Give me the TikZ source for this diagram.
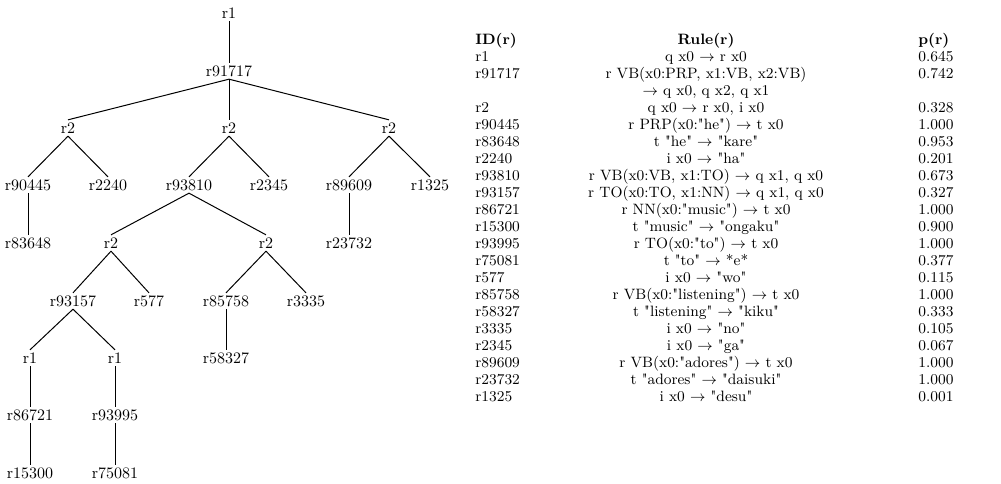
\documentclass[tikz,border=0pt]{standalone}
\newcommand{\dq}{\textquotedbl}
\begin{document}
\begin{tikzpicture}[x=0.6pt,y=-0.6pt,
  tn/.style={inner sep=1.2pt,text height=7pt,text depth=0pt,font=\fontsize{9.6}{11}\selectfont},
  ed/.style={line width=0.6pt},
  tb/.style={inner sep=0pt,text height=6.5pt,text depth=0pt,font=\fontsize{9}{10}\selectfont},
  tbh/.style={tb,font=\fontsize{9}{10}\selectfont\bfseries}]
\useasboundingbox (0,0) rectangle (1001,483);
% tree
\node[tn] (t1) at (229,13) {r1};
\node[tn] (t2) at (229,71) {r91717};
\node[tn] (a) at (68,128) {r2};
\node[tn] (b) at (229,128) {r2};
\node[tn] (c) at (389,128) {r2};
\node[tn] (a1) at (28,185) {r90445};
\node[tn] (a2) at (108,185) {r2240};
\node[tn] (b1) at (189,185) {r93810};
\node[tn] (b2) at (269,185) {r2345};
\node[tn] (c1) at (349,185) {r89609};
\node[tn] (c2) at (430,185) {r1325};
\node[tn] (a11) at (28,243) {r83648};
\node[tn] (b11) at (111,243) {r2};
\node[tn] (b12) at (266,243) {r2};
\node[tn] (c11) at (349,243) {r23732};
\node[tn] (d1) at (73,301) {r93157};
\node[tn] (d2) at (149,301) {r577};
\node[tn] (e1) at (226,301) {r85758};
\node[tn] (e2) at (306,301) {r3335};
\node[tn] (f1) at (30,358) {r1};
\node[tn] (f2) at (115,358) {r1};
\node[tn] (e11) at (226,358) {r58327};
\node[tn] (g1) at (30,415) {r86721};
\node[tn] (g2) at (115,415) {r93995};
\node[tn] (h1) at (30,473) {r15300};
\node[tn] (h2) at (115,473) {r75081};
\foreach \p/\c in {t1/t2,t2/a,t2/b,t2/c,a/a1,a/a2,b/b1,b/b2,c/c1,c/c2,a1/a11,b1/b11,b1/b12,c1/c11,
  b11/d1,b11/d2,b12/e1,b12/e2,d1/f1,d1/f2,e1/e11,f1/g1,f2/g2,g1/h1,g2/h2}
  \draw[ed] (\p.south) -- (\c.north);
% table
\node[tbh,anchor=west] (hid) at (475,39) {ID(r)};
\node[tbh] (hrule) at (706,39) {Rule(r)};
\node[tbh,anchor=west] (hp) at (918,39) {p(r)};
\foreach \k/\id/\rr/\pp in {
  1/r1/{q x0 $\rightarrow$ r x0}/0.645,
  2/r91717/{r VB(x0:PRP, x1:VB, x2:VB)}/0.742,
  3//{$\rightarrow$ q x0, q x2, q x1}/,
  4/r2/{q x0 $\rightarrow$ r x0, i x0}/0.328,
  5/r90445/{r PRP(x0:\dq{}he\dq{}) $\rightarrow$ t x0}/1.000,
  6/r83648/{t \dq{}he\dq{} $\rightarrow$ \dq{}kare\dq{}}/0.953,
  7/r2240/{i x0 $\rightarrow$ \dq{}ha\dq{}}/0.201,
  8/r93810/{r VB(x0:VB, x1:TO) $\rightarrow$ q x1, q x0}/0.673,
  9/r93157/{r TO(x0:TO, x1:NN) $\rightarrow$ q x1, q x0}/0.327,
  10/r86721/{r NN(x0:\dq{}music\dq{}) $\rightarrow$ t x0}/1.000,
  11/r15300/{t \dq{}music\dq{} $\rightarrow$ \dq{}ongaku\dq{}}/0.900,
  12/r93995/{r TO(x0:\dq{}to\dq{}) $\rightarrow$ t x0}/1.000,
  13/r75081/{t \dq{}to\dq{} $\rightarrow$ *e*}/0.377,
  14/r577/{i x0 $\rightarrow$ \dq{}wo\dq{}}/0.115,
  15/r85758/{r VB(x0:\dq{}listening\dq{}) $\rightarrow$ t x0}/1.000,
  16/r58327/{t \dq{}listening\dq{} $\rightarrow$ \dq{}kiku\dq{}}/0.333,
  17/r3335/{i x0 $\rightarrow$ \dq{}no\dq{}}/0.105,
  18/r2345/{i x0 $\rightarrow$ \dq{}ga\dq{}}/0.067,
  19/r89609/{r VB(x0:\dq{}adores\dq{}) $\rightarrow$ t x0}/1.000,
  20/r23732/{t \dq{}adores\dq{} $\rightarrow$ \dq{}daisuki\dq{}}/1.000,
  21/r1325/{i x0 $\rightarrow$ \dq{}desu\dq{}}/0.001}
{
  \node[tb,anchor=west] (id\k) at (475,39+17*\k) {\id};
  \node[tb] (ru\k) at (706,39+17*\k) {\rr};
  \node[tb,anchor=west] (p\k) at (918,39+17*\k) {\pp};
}
\end{tikzpicture}
\end{document}
